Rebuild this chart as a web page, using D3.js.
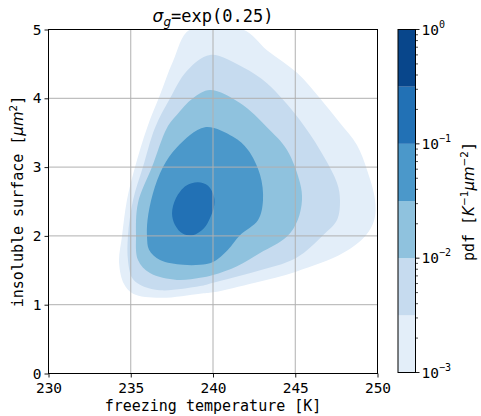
<!DOCTYPE html>
<html>
<head>
<meta charset="utf-8">
<script src="https://cdn.jsdelivr.net/npm/d3@7"></script>
<style>
  body { margin: 0; background: #fff; }
  svg { display: block; }
  text { font-family: "DejaVu Sans Mono", monospace; fill: #000; }
</style>
</head>
<body>
<svg width="481" height="416"></svg>
<script>
// contour lines, [temperature K, surface um^2]
const level1 = [[238.60,5.00],[241.82,5.00],[243.28,4.70],[245.11,4.37],[246.50,4.00],[247.72,3.64],[248.75,3.32],[249.36,2.96],[249.85,2.52],[249.80,2.23],[249.30,2.01],[247.90,1.75],[245.05,1.48],[242.55,1.32],[240.00,1.18],[239.21,1.16],[236.78,1.10],[235.14,1.16],[234.59,1.30],[234.29,1.61],[234.47,2.00],[234.77,2.52],[235.26,3.00],[235.99,3.57],[236.78,4.05],[237.57,4.54]];
const level2 = [[239.82,4.63],[241.82,4.45],[243.28,4.22],[244.26,3.98],[245.29,3.68],[246.50,3.25],[247.54,2.77],[247.72,2.52],[247.54,2.23],[246.69,2.01],[245.05,1.68],[242.55,1.48],[240.00,1.32],[239.21,1.27],[236.78,1.21],[235.56,1.29],[235.08,1.39],[234.83,1.65],[234.83,2.00],[235.14,2.52],[235.74,3.00],[236.47,3.57],[237.39,4.00],[238.42,4.40]];
const level3 = [[239.82,4.12],[241.64,3.93],[243.28,3.58],[244.50,3.25],[245.29,2.77],[245.41,2.52],[245.15,2.23],[244.50,1.99],[242.86,1.75],[241.46,1.56],[240.00,1.43],[239.21,1.39],[237.81,1.36],[236.17,1.46],[235.44,1.65],[235.32,2.01],[235.44,2.48],[236.29,3.00],[237.20,3.57],[237.81,3.76],[238.78,4.00]];
const level4 = [[239.51,3.58],[241.22,3.44],[242.13,3.25],[242.86,2.89],[243.04,2.52],[242.74,2.23],[241.64,2.01],[240.91,1.80],[240.00,1.62],[239.21,1.58],[238.18,1.58],[236.78,1.65],[236.11,1.80],[235.99,1.98],[236.02,2.23],[236.35,2.62],[236.96,3.00],[237.81,3.29]];
const level5 = [[239.09,2.78],[239.70,2.73],[240.06,2.57],[240.06,2.42],[239.82,2.26],[239.45,2.11],[238.78,2.01],[238.18,2.03],[237.69,2.16],[237.51,2.33],[237.75,2.55],[238.36,2.73]];

const levelExps = [-3, -2.5, -2, -1.5, -1, -0.5, 0];
const levelColors = ['#e3eef9', '#c6dbef', '#8fc2de', '#4b98ca', '#2271b5', '#08468b'];
const xTicks = [230, 235, 240, 245, 250];
const yTicks = [0, 1, 2, 3, 4, 5];
const cbTicks = [-3, -2, -1, 0];

const SVG = d3.select('svg');
const LEFT = 48.5, RIGHT = 377.5, TOP = 29.5, BOTTOM = 373.5;

const X_SCALE = d3.scaleLinear().domain([230, 250]).range([LEFT, RIGHT]);
const Y_SCALE = d3.scaleLinear().domain([0, 5]).range([BOTTOM, TOP]);

SVG.append('clipPath').attr('id', 'plotClip')
  .append('rect')
  .attr('x', LEFT).attr('y', TOP)
  .attr('width', RIGHT - LEFT).attr('height', BOTTOM - TOP);

// filled contours
const CONTOURS = SVG.append('g').attr('clip-path', 'url(#plotClip)');
const LINE = d3.line()
  .x(d => X_SCALE(d[0]))
  .y(d => Y_SCALE(d[1]))
  .curve(d3.curveCatmullRomClosed.alpha(0.5));

[level1, level2, level3, level4, level5].forEach((pts, i) => {
  CONTOURS.append('path')
    .attr('d', LINE(pts))
    .style('fill', levelColors[i]);
});

// grid
const GRID = SVG.append('g');
xTicks.forEach(t => {
  GRID.append('line')
    .attr('x1', X_SCALE(t)).attr('x2', X_SCALE(t))
    .attr('y1', TOP).attr('y2', BOTTOM)
    .style('stroke', '#b0b0b0').style('stroke-width', 1);
});
yTicks.forEach(t => {
  GRID.append('line')
    .attr('x1', LEFT).attr('x2', RIGHT)
    .attr('y1', Y_SCALE(t)).attr('y2', Y_SCALE(t))
    .style('stroke', '#b0b0b0').style('stroke-width', 1);
});

// axes
const X_AXIS = d3.axisBottom(X_SCALE).tickValues(xTicks).tickFormat(d3.format('d')).tickSize(4).tickPadding(5);
const X_AXIS_G = SVG.append('g').attr('transform', `translate(0,${BOTTOM})`);
X_AXIS(X_AXIS_G);
const Y_AXIS = d3.axisLeft(Y_SCALE).tickValues(yTicks).tickFormat(d3.format('d')).tickSize(4).tickPadding(3);
const Y_AXIS_G = SVG.append('g').attr('transform', `translate(${LEFT},0)`);
Y_AXIS(Y_AXIS_G);
[X_AXIS_G, Y_AXIS_G].forEach(g => {
  g.select('.domain').remove();
  g.selectAll('text')
    .style('font-family', '"DejaVu Sans Mono", monospace')
    .style('font-size', '14.5px')
    .attr('fill', '#000');
  g.selectAll('line').attr('stroke', '#000').style('stroke-width', 0.9);
});

SVG.append('rect')
  .attr('x', LEFT).attr('y', TOP)
  .attr('width', RIGHT - LEFT).attr('height', BOTTOM - TOP)
  .style('fill', 'none').style('stroke', '#000').style('stroke-width', 1);

// labels
SVG.append('text')
  .attr('x', (LEFT + RIGHT) / 2).attr('y', 411)
  .attr('text-anchor', 'middle')
  .style('font-size', '15px')
  .text('freezing temperature [K]');

const Y_LABEL = SVG.append('text')
  .attr('transform', `translate(23,${(TOP + BOTTOM) / 2}) rotate(-90)`)
  .attr('text-anchor', 'middle')
  .style('font-size', '15px');
Y_LABEL.append('tspan').text('insoluble surface [');
Y_LABEL.append('tspan').text('μm').style('font-family', '"DejaVu Sans", sans-serif').style('font-style', 'italic');
Y_LABEL.append('tspan').text('2').attr('dy', -6).style('font-size', '10.5px').style('font-family', '"DejaVu Sans", sans-serif');
Y_LABEL.append('tspan').text(']').attr('dy', 6);

const TITLE = SVG.append('text')
  .attr('x', (LEFT + RIGHT) / 2).attr('y', 22)
  .attr('text-anchor', 'middle')
  .style('font-size', '17px');
TITLE.append('tspan').text('σ').style('font-family', '"DejaVu Sans", sans-serif').style('font-style', 'italic');
TITLE.append('tspan').text('g').attr('dy', 4).style('font-size', '12px').style('font-family', '"DejaVu Sans", sans-serif').style('font-style', 'italic');
TITLE.append('tspan').text('=exp(0.25)').attr('dy', -4);

// colorbar
const CB_X = 398, CB_W = 17.5;
const CB_SCALE = d3.scaleLinear().domain([-3, 0]).range([BOTTOM - 1, TOP]);
const CB = SVG.append('g');
levelColors.forEach((c, i) => {
  CB.append('rect')
    .attr('x', CB_X)
    .attr('y', CB_SCALE(levelExps[i + 1]))
    .attr('width', CB_W)
    .attr('height', CB_SCALE(levelExps[i]) - CB_SCALE(levelExps[i + 1]))
    .style('fill', c);
});
CB.append('rect')
  .attr('x', CB_X).attr('y', CB_SCALE(0))
  .attr('width', CB_W).attr('height', CB_SCALE(-3) - CB_SCALE(0))
  .style('fill', 'none').style('stroke', '#000').style('stroke-width', 1);

// minor ticks
for (let e = -3; e < 0; e++) {
  for (let m = 2; m <= 9; m++) {
    const v = e + Math.log10(m);
    CB.append('line')
      .attr('x1', CB_X + CB_W).attr('x2', CB_X + CB_W + 2.5)
      .attr('y1', CB_SCALE(v)).attr('y2', CB_SCALE(v))
      .style('stroke', '#000').style('stroke-width', 0.7);
  }
}
cbTicks.forEach(e => {
  CB.append('line')
    .attr('x1', CB_X + CB_W).attr('x2', CB_X + CB_W + 4)
    .attr('y1', CB_SCALE(e)).attr('y2', CB_SCALE(e))
    .style('stroke', '#000').style('stroke-width', 0.9);
  const t = CB.append('text')
    .attr('x', CB_X + CB_W + 6)
    .attr('y', CB_SCALE(e) + 5)
    .style('font-size', '14.5px');
  t.append('tspan').text('10');
  t.append('tspan').text(e === 0 ? '0' : '−' + Math.abs(e))
    .attr('dy', -7).style('font-size', '10px');
});

const CB_LABEL = SVG.append('text')
  .attr('transform', `translate(474,${(TOP + BOTTOM) / 2}) rotate(-90)`)
  .attr('text-anchor', 'middle')
  .style('font-size', '15px');
CB_LABEL.append('tspan').text('pdf  [');
CB_LABEL.append('tspan').text('K').style('font-family', '"DejaVu Sans", sans-serif').style('font-style', 'italic');
CB_LABEL.append('tspan').text('−1').attr('dy', -6).style('font-size', '10.5px').style('font-family', '"DejaVu Sans", sans-serif');
CB_LABEL.append('tspan').text('μm').attr('dy', 6).style('font-family', '"DejaVu Sans", sans-serif').style('font-style', 'italic');
CB_LABEL.append('tspan').text('−2').attr('dy', -6).style('font-size', '10.5px').style('font-family', '"DejaVu Sans", sans-serif');
CB_LABEL.append('tspan').text(']').attr('dy', 6);
</script>
</body>
</html>
